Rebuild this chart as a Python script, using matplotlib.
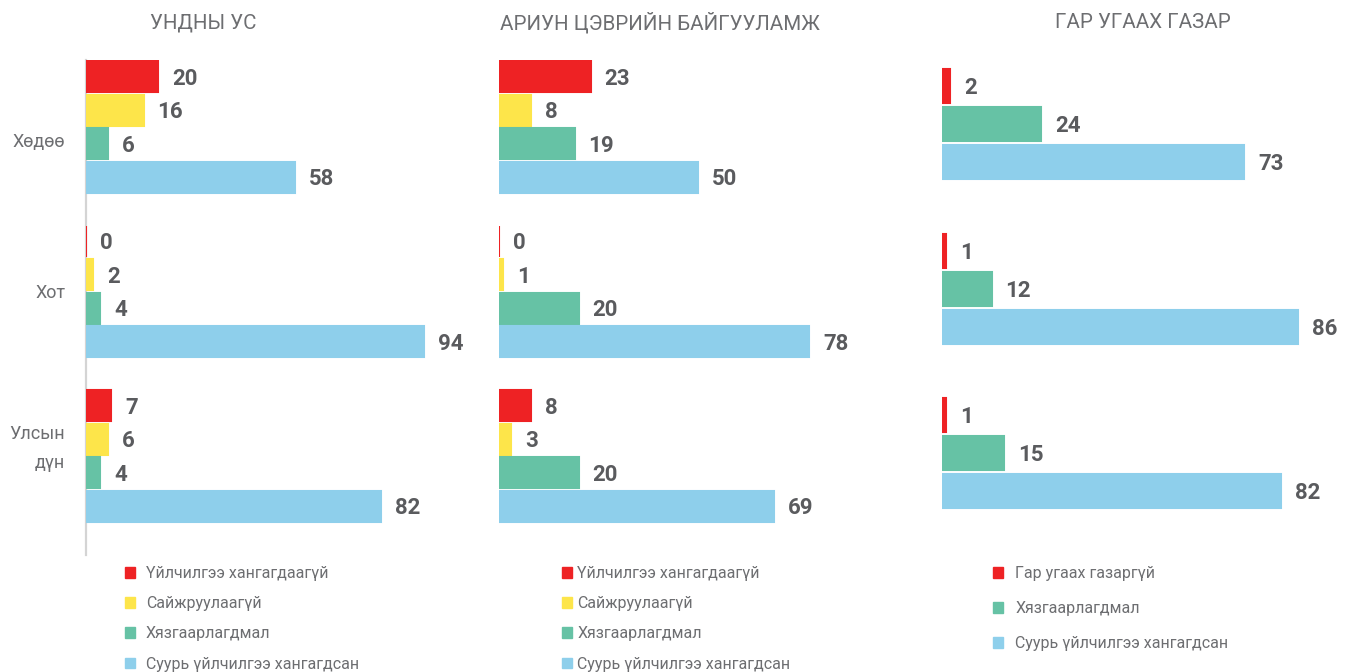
import matplotlib
matplotlib.use("Agg")
import matplotlib.pyplot as plt
from matplotlib.patches import Patch
import numpy as np

# ---------------- data ----------------
groups = ["Хөдөө", "Хот", "Улсын\nдүн"]

titles = ["УНДНЫ УС", "АРИУН ЦЭВРИЙН БАЙГУУЛАМЖ", "ГАР УГААХ ГАЗАР"]

labels_4 = ["Үйлчилгээ хангагдаагүй", "Сайжруулаагүй", "Хязгаарлагдмал",
            "Суурь үйлчилгээ хангагдсан"]
labels_3 = ["Гар угаах газаргүй", "Хязгаарлагдмал", "Суурь үйлчилгээ хангагдсан"]

# values per series, ordered [Хөдөө, Хот, Улсын дүн]
water_none = [20, 0, 7]
water_unimproved = [16, 2, 6]
water_limited = [6, 4, 4]
water_basic = [58, 94, 82]

san_none = [23, 0, 8]
san_unimproved = [8, 1, 3]
san_limited = [19, 20, 20]
san_basic = [50, 78, 69]

hyg_none = [2, 1, 1]
hyg_limited = [24, 12, 15]
hyg_basic = [73, 86, 82]

RED = "#ee2224"
YELLOW = "#fde54a"
GREEN = "#66c2a5"
BLUE = "#8ecfeb"
TXT = "#6d6e71"
VAL = "#5a5b5e"

plt.rcParams["font.family"] = ["Roboto", "DejaVu Sans"]

W, H = 1349, 672
fig = plt.figure(figsize=(W / 100, H / 100), dpi=100)


def px_axes(left, top, width, height):
    return fig.add_axes([left / W, 1 - (top + height) / H, width / W, height / H])


panels = [
    dict(left=86, scale=3.6, series=[water_none, water_unimproved, water_limited, water_basic],
         colors=[RED, YELLOW, GREEN, BLUE], labels=labels_4, step=0.204, bh=0.188,
         shift=0.0, title_x=203, leg_x=125, leg_sp=0.95, tpad=0.65, spine=True),
    dict(left=499, scale=3.98, series=[san_none, san_unimproved, san_limited, san_basic],
         colors=[RED, YELLOW, GREEN, BLUE], labels=labels_4, step=0.204, bh=0.188,
         shift=0.0, title_x=660, leg_x=562, leg_sp=0.95, tpad=0.3, spine=False),
    dict(left=942, scale=4.14, series=[hyg_none, hyg_limited, hyg_basic],
         colors=[RED, GREEN, BLUE], labels=labels_3, step=0.232, bh=0.207,
         shift=-0.017, title_x=1143, leg_x=993, leg_sp=1.25, tpad=0.75, spine=False),
]

top_px, bot_px = 60, 555
ax_w = 385
g0_px, px_per_group = 127, 164.5

for k, p in enumerate(panels):
    ax = px_axes(p["left"], top_px, ax_w, bot_px - top_px)
    ax.set_xlim(0, ax_w / p["scale"])
    ax.set_ylim((bot_px - g0_px) / px_per_group, (top_px - g0_px) / px_per_group)
    n = len(p["series"])
    ypos = np.arange(len(groups))
    for i, (vals, col) in enumerate(zip(p["series"], p["colors"])):
        off = (i - (n - 1) / 2) * p["step"] + p["shift"]
        bars = ax.barh(ypos + off, vals, height=p["bh"], color=col,
                       edgecolor=col, linewidth=1.5, left=0, zorder=3)
        for b, v in zip(bars, vals):
            ax.annotate(f"{v}", xy=(b.get_width(), b.get_y() + b.get_height() / 2),
                        xytext=(10, -1.5), textcoords="offset points",
                        ha="left", va="center", fontsize=16, fontweight="bold",
                        color=VAL)
    for s in ["top", "right", "bottom"]:
        ax.spines[s].set_visible(False)
    ax.set_xticks([])
    if p["spine"]:
        ax.spines["left"].set_color("#d4d4d4")
        ax.spines["left"].set_linewidth(1.6)
        ax.spines["left"].set_zorder(1)
        ax.set_yticks(ypos + np.array([0.08, 0.0, -0.09]))
        ax.set_yticklabels(groups, fontsize=13, color=TXT, linespacing=1.75)
        ax.tick_params(axis="y", length=0, pad=15)
    else:
        ax.spines["left"].set_visible(False)
        ax.set_yticks([])
    # title
    fig.text(p["title_x"] / W, 1 - 23 / H, titles[k], ha="center",
             va="center", fontsize=14.8, color=TXT)
    # legend
    handles = [Patch(facecolor=c, edgecolor=c) for c in p["colors"]]
    fig.legend(handles, p["labels"], loc="upper left",
               bbox_to_anchor=(p["leg_x"] / W, 1 - 566 / H), frameon=False,
               fontsize=11.5, labelcolor=TXT, handlelength=0.65, handleheight=0.65,
               handletextpad=p["tpad"], labelspacing=p["leg_sp"], borderaxespad=0,
               borderpad=0)

fig.savefig("out.png", dpi=100, facecolor="white")
